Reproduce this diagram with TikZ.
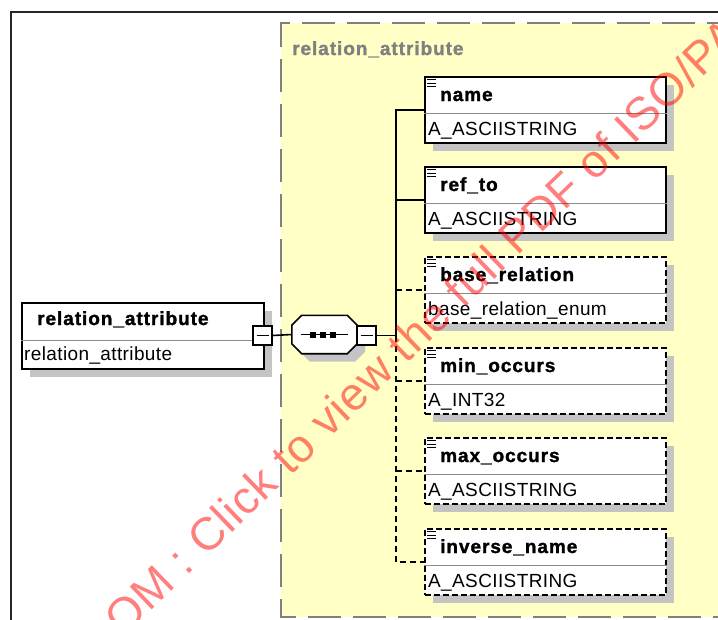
\documentclass[tikz,border=0pt]{standalone}
\usepackage{fontspec}
\setmainfont{Liberation Sans}
\usetikzlibrary{shadows}
\definecolor{grpfill}{HTML}{FFFFC6}
\definecolor{grpline}{HTML}{808080}
\definecolor{shadowgray}{HTML}{C4C4C4}
\definecolor{divgray}{HTML}{8C8C8C}
\newcommand\hdfont{\fontsize{19}{22}\selectfont\bfseries\addfontfeatures{LetterSpace=5,FakeBold=1.5}}
\newcommand\tyfont{\fontsize{19}{22}\selectfont\addfontfeatures{LetterSpace=2}}
\newcommand\wmfont{\fontsize{46}{50}\selectfont\addfontfeatures{LetterSpace=2}}
\newcommand\octpath[1]{([xshift=10pt]#1.north west) -- ([xshift=-10pt]#1.north east) -- ([yshift=-10pt]#1.north east) -- ([yshift=10pt]#1.south east) -- ([xshift=-10pt]#1.south east) -- ([xshift=10pt]#1.south west) -- ([yshift=10pt]#1.south west) -- ([yshift=-10pt]#1.north west) -- cycle}
\begin{document}
\begin{tikzpicture}[x=1pt,y=-1pt,
  sh/.style={drop shadow={shadow xshift=8pt,shadow yshift=-8pt,fill=shadowgray,opacity=1}},
  box/.style={draw=black,line width=1.8pt,fill=white,inner sep=0pt,minimum width=241pt,minimum height=66pt,anchor=north west,sh},
  optbox/.style={box,dash pattern=on 6pt off 3pt},
  divider/.style={draw=divgray,line width=1pt},
  hd/.style={inner sep=0pt,font=\hdfont},
  ty/.style={inner sep=0pt,font=\tyfont},
  expander/.style={draw=black,line width=1.4pt,fill=white,minimum size=19pt,inner sep=0pt,
    path picture={\draw[line width=1.4pt] ([xshift=-6pt]path picture bounding box.center) -- ([xshift=6pt]path picture bounding box.center);}},
  seqbox/.style={rectangle,draw=none,minimum width=65pt,minimum height=38pt,inner sep=0pt},
  conn/.style={draw=black,line width=1.6pt},
  dconn/.style={conn,dash pattern=on 6pt off 4pt},
  wm/.style={text=red,opacity=0.5,inner sep=0pt,font=\wmfont}
]
\useasboundingbox (0,0) rectangle (718,619);
\fill[white] (0,0) rectangle (718,619);
% outer frame
\draw[draw=black!85,line width=1.6pt] (11,12) rectangle (740,640);
% group
\fill[grpfill] (281,23) rectangle (740,617);
\draw[draw=grpline,line width=2pt,dash pattern=on 33pt off 12pt] (740,23) -- (281,23) -- (281,617) -- (740,617);
\node[anchor=base west,inner sep=0pt,text=grpline,font=\hdfont] (glabel) at (292,55) {relation\_attribute};

% root element
\node[box,minimum width=242pt] (root) at (21,302) {};
\draw[divider] ([yshift=-38pt]root.north west) -- ([yshift=-38pt]root.north east);
\node[hd,anchor=base west] (rt) at ([xshift=16pt,yshift=-23pt]root.north west) {relation\_attribute};
\node[ty,anchor=base west] (ry) at ([xshift=3pt,yshift=-58pt]root.north west) {relation\_attribute};
\node[expander] (e1) at (262.5,335.5) {};

% sequence compositor
\node[seqbox] (seq) at (324.5,334.5) {};
\fill[shadowgray,transform canvas={shift={(8pt,-8pt)}}] \octpath{seq};
\filldraw[fill=white,draw=black,line width=1.6pt] \octpath{seq};
\draw[line width=1.4pt] ([xshift=-24pt]seq.center) -- ([xshift=23pt]seq.center);
\foreach \dx in {-11.5,-1.5,8.5}
  \fill ([xshift=\dx pt]seq.center) +(-3,-3) rectangle +(3,3);
\node[expander] (e2) at (366.5,335.5) {};

% children
\foreach \i/\ty/\ti/\tp/\st in {1/76/name/A\_ASCIISTRING/box,
  2/166/ref\_to/A\_ASCIISTRING/box,
  3/256/base\_relation/base\_relation\_enum/optbox,
  4/347/min\_occurs/A\_INT32/optbox,
  5/437/max\_occurs/A\_ASCIISTRING/optbox,
  6/528/inverse\_name/A\_ASCIISTRING/optbox}{
  \node[\st] (c\i) at (424,\ty) {};
  \draw[divider] ([yshift=-37pt]c\i.north west) -- ([yshift=-37pt]c\i.north east);
  \node[hd,anchor=base west] (t\i) at ([xshift=16pt,yshift=-25pt]c\i.north west) {\ti};
  \node[ty,anchor=base west] (y\i) at ([xshift=4pt,yshift=-59pt]c\i.north west) {\tp};
  \foreach \dy in {3.5,7,10.5}
    \draw[line width=1pt] ([xshift=3pt,yshift=-\dy pt]c\i.north west) -- ++(9,0);
}

% connectors
\coordinate (sp) at (396,335.5);
\draw[conn] (e1.east) -- (seq.west);
\draw[conn] (e2.east) -- (sp);
\draw[conn] (sp) |- (c1.west);
\draw[conn] (sp |- c2.west) -- (c2.west);
\draw[dconn] (sp) |- (c6.west);
\foreach \i in {3,4,5}
  \draw[dconn] (sp |- c\i.west) -- (c\i.west);

% watermark
\node[wm,rotate=44,anchor=base west] (wmark) at (123,638) {OM : Click to view the full PDF of ISO/PA};
\end{tikzpicture}
\end{document}
